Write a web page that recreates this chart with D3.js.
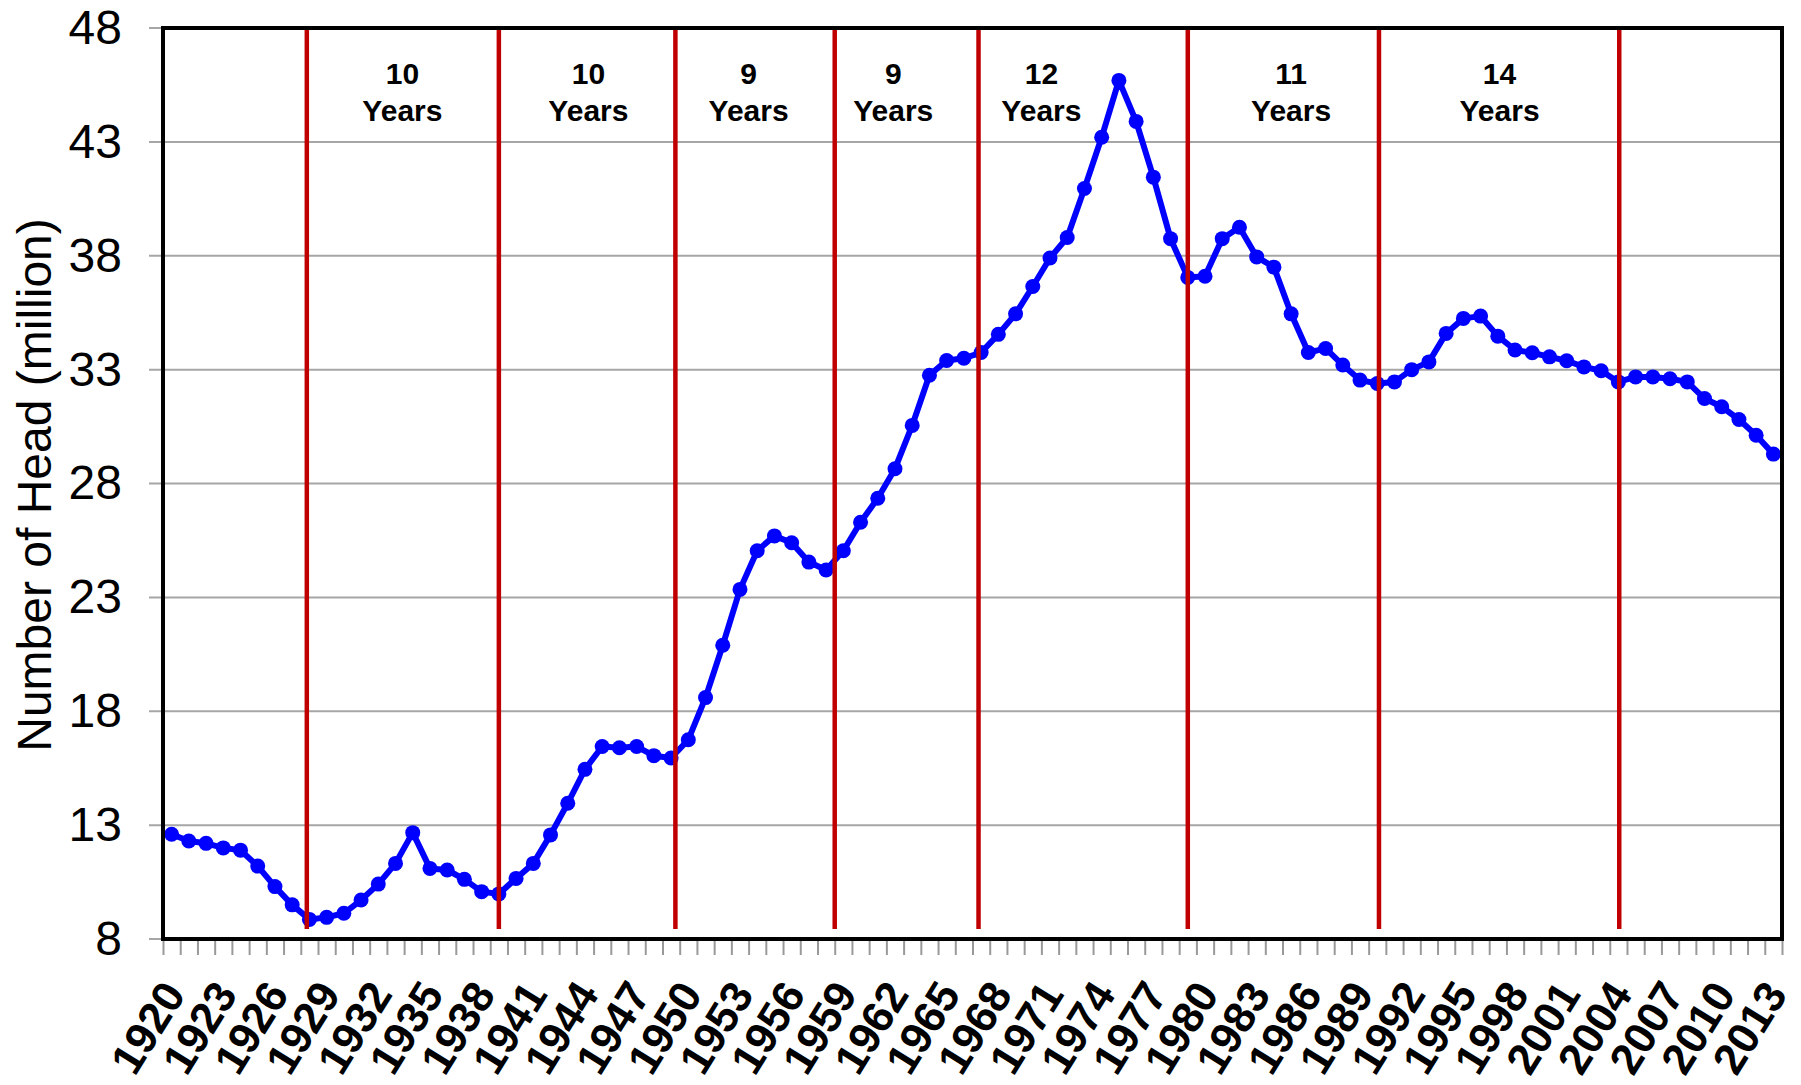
<!DOCTYPE html>
<html>
<head>
<meta charset="utf-8">
<title>Number of Head</title>
<script src="https://cdn.jsdelivr.net/npm/d3@7/dist/d3.min.js"></script>
<style>
  body { margin: 0; background: #fff; }
  text { font-family: Arial, "Liberation Sans", sans-serif; fill: #000; }
</style>
</head>
<body>
<script>
// yearly herd size, million head
var years = d3.range(1920, 2014);
var heads = [
  12.6, 12.3, 12.2, 12.0, 11.9, 11.2, 10.3, 9.5, 8.86, 8.95,
  9.13, 9.71, 10.41, 11.32, 12.67, 11.1, 11.03, 10.62, 10.08, 9.98,
  10.66, 11.32, 12.57, 13.96, 15.45, 16.45, 16.4, 16.45, 16.05, 15.95,
  16.75, 18.6, 20.9, 23.35, 25.05, 25.7, 25.4, 24.55, 24.2, 25.05,
  26.3, 27.35, 28.65, 30.55, 32.75, 33.4, 33.5, 33.75, 34.55, 35.45,
  36.65, 37.9, 38.8, 40.95, 43.2, 45.7, 43.9, 41.45, 38.75, 37.05,
  37.1, 38.75, 39.25, 37.95, 37.5, 35.45, 33.75, 33.93, 33.2, 32.54,
  32.39, 32.46, 33.0, 33.34, 34.59, 35.25, 35.35, 34.47, 33.86, 33.74,
  33.56, 33.39, 33.12, 32.95, 32.46, 32.68, 32.68, 32.6, 32.46, 31.73,
  31.37, 30.81, 30.12, 29.29
];
var yTicks = [8, 13, 18, 23, 28, 33, 38, 43, 48];
var labelYears = years.filter(function (d) { return (d - 1920) % 3 === 0; });

// cycle dividers and the cycle length labels between them
var cycleLines = [1927.85, 1939, 1949.25, 1958.5, 1966.85, 1979, 1990.1, 2004.05];
var cycleLengths = ["10", "10", "9", "9", "12", "11", "14"];
var cycleLabelAt = [1933.4, 1944.2, 1953.5, 1961.9, 1970.5, 1985.0, 1997.1];

var w = 1801, h = 1085,
    plotLeft = 163, plotRight = 1782, plotTop = 28, plotBottom = 939;

var x = d3.scaleLinear().domain([1919.5, 2013.5]).range([plotLeft, plotRight]);
var y = d3.scaleLinear().domain([8, 48]).range([plotBottom, plotTop]);

var svg = d3.select("body").append("svg")
    .attr("width", w)
    .attr("height", h)
    .style("display", "block");

// gridlines
svg.append("g")
    .selectAll("line")
    .data(yTicks)
  .enter().append("line")
    .attr("x1", plotLeft - 14).attr("x2", plotRight)
    .attr("y1", function (d) { return y(d); })
    .attr("y2", function (d) { return y(d); })
    .style("stroke", "#a6a6a6")
    .style("stroke-width", 2);

// y axis labels
var yAxis = svg.append("g")
    .attr("transform", "translate(" + plotLeft + ",0)")
    .call(d3.axisLeft(y).tickValues(yTicks).tickSize(0).tickPadding(41));
yAxis.select(".domain").remove();
yAxis.selectAll("text")
    .style("font-size", "48px")
    .style("font-family", "Arial, 'Liberation Sans', sans-serif");

// x minor ticks at category boundaries
var xTicks = svg.append("g")
    .attr("transform", "translate(0," + (plotBottom + 2) + ")")
    .call(d3.axisBottom(x).tickValues(d3.range(1919.5, 2014, 1)).tickSize(14).tickFormat(""));
xTicks.select(".domain").remove();
xTicks.selectAll("line").style("stroke", "#999").style("stroke-width", 2);

// year labels
svg.append("g")
    .selectAll("text")
    .data(labelYears)
  .enter().append("text")
    .attr("transform", function (d) {
        return "translate(" + (x(d) + 2) + "," + 986 + ") rotate(-58)";
    })
    .attr("dy", "0.35em")
    .attr("text-anchor", "end")
    .style("font-size", "44px")
    .style("font-weight", "bold")
    .text(function (d) { return d; });

// series
var pts = years.map(function (d, i) { return { year: d, value: heads[i] }; });

svg.append("path")
    .datum(pts)
    .attr("d", d3.line()
        .x(function (d) { return x(d.year); })
        .y(function (d) { return y(d.value); }))
    .style("fill", "none")
    .style("stroke", "#0000ff")
    .style("stroke-width", 6)
    .style("stroke-linejoin", "round");

svg.append("g")
    .selectAll("circle")
    .data(pts)
  .enter().append("circle")
    .attr("cx", function (d) { return x(d.year); })
    .attr("cy", function (d) { return y(d.value); })
    .attr("r", 7.5)
    .style("fill", "#0000ff");

// cycle dividers
svg.append("g")
    .selectAll("line")
    .data(cycleLines)
  .enter().append("line")
    .attr("x1", function (d) { return x(d); })
    .attr("x2", function (d) { return x(d); })
    .attr("y1", y(48))
    .attr("y2", y(8.44))
    .style("stroke", "#c00000")
    .style("stroke-width", 4.5);

// frame
svg.append("rect")
    .attr("x", plotLeft).attr("y", plotTop)
    .attr("width", plotRight - plotLeft).attr("height", plotBottom - plotTop)
    .style("fill", "none")
    .style("stroke", "#000")
    .style("stroke-width", 4);

// cycle length labels
var cyc = svg.append("g")
    .selectAll("text")
    .data(cycleLabelAt)
  .enter().append("text")
    .attr("x", function (d) { return x(d); })
    .attr("text-anchor", "middle")
    .style("font-size", "30px")
    .style("font-weight", "bold");
cyc.append("tspan")
    .attr("x", function (d) { return x(d); })
    .attr("y", 84)
    .text(function (d, i) { return cycleLengths[i]; });
cyc.append("tspan")
    .attr("x", function (d) { return x(d); })
    .attr("y", 121)
    .text("Years");

// y title
svg.append("text")
    .attr("transform", "translate(51,485) rotate(-90)")
    .attr("text-anchor", "middle")
    .style("font-size", "48px")
    .text("Number of Head  (million)");
</script>
</body>
</html>
